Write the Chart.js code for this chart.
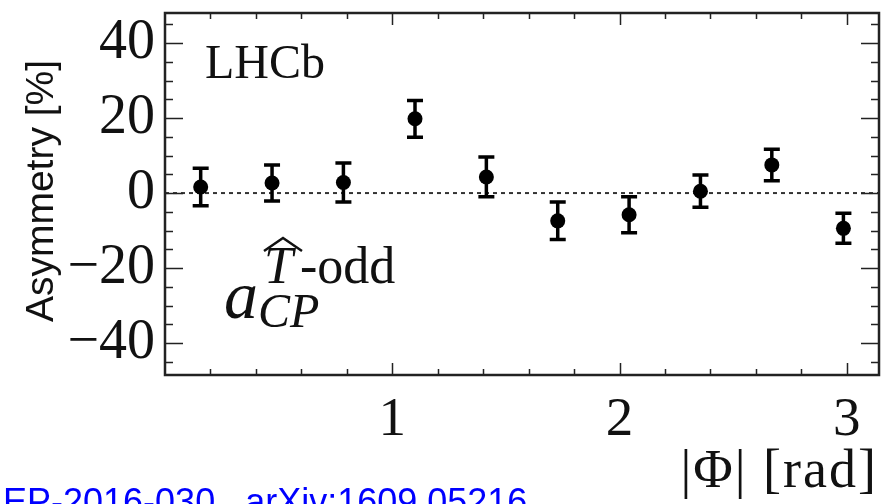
<!DOCTYPE html>
<html lang="en">
<head>
    <meta charset="UTF-8">
    <title>LHCb T-odd asymmetry vs |Phi|</title>
    <script src="https://cdn.jsdelivr.net/npm/chart.js"></script>
    <style>
        body {
            margin: 0;
            padding: 0;
            background: #fff;
        }
        #wrap {
            width: 893px;
            height: 504px;
        }
    </style>
</head>
<body>
    <div id="wrap"><canvas id="asymChart" width="893" height="504"></canvas></div>

    <script>
        // bin centres in |Phi| (rad), 10 bins over [0, pi]
        const phiCenters = [0.157, 0.471, 0.785, 1.100, 1.414, 1.728, 2.042, 2.356, 2.670, 2.985];
        // a_CP (T-odd) asymmetry in %
        const asymmetry = [1.6, 2.7, 2.8, 19.8, 4.3, -7.4, -5.8, 0.5, 7.5, -9.4];
        const asymErr = [5.0, 4.8, 5.2, 4.9, 5.3, 5.0, 4.8, 4.3, 4.2, 4.0];
        const xTickValues = [1, 2, 3];
        const yTickValues = [-40, -20, 0, 20, 40];

        const serif = "'Liberation Serif', 'Times New Roman', serif";
        const sans = "'Liberation Sans', Arial, sans-serif";

        const points = phiCenters.map((x, i) => ({ x: x, y: asymmetry[i], e: asymErr[i] }));

        // frame, inward ticks, zero line, error bars and labels
        const decor = {
            id: 'decor',
            beforeDatasetsDraw(chart) {
                const { ctx, chartArea: a, scales: { x, y } } = chart;
                ctx.save();
                // dotted zero line
                const y0 = y.getPixelForValue(0);
                ctx.strokeStyle = '#333';
                ctx.lineWidth = 2;
                ctx.setLineDash([4, 4]);
                ctx.beginPath();
                ctx.moveTo(a.left, y0);
                ctx.lineTo(a.right, y0);
                ctx.stroke();
                ctx.setLineDash([]);

                // error bars
                ctx.strokeStyle = '#000';
                ctx.lineWidth = 3.5;
                points.forEach(p => {
                    const px = x.getPixelForValue(p.x);
                    const top = y.getPixelForValue(p.y + p.e);
                    const bot = y.getPixelForValue(p.y - p.e);
                    ctx.beginPath();
                    ctx.moveTo(px, top);
                    ctx.lineTo(px, bot);
                    ctx.moveTo(px - 8, top);
                    ctx.lineTo(px + 8, top);
                    ctx.moveTo(px - 8, bot);
                    ctx.lineTo(px + 8, bot);
                    ctx.stroke();
                });
                ctx.restore();
            },
            afterDraw(chart) {
                const { ctx, chartArea: a, scales: { x, y } } = chart;
                ctx.save();
                ctx.strokeStyle = '#222';
                ctx.lineWidth = 1.5;
                // y ticks (left and right), every 5, major every 20
                for (let v = -45; v <= 45; v += 5) {
                    const py = Math.round(y.getPixelForValue(v)) + 0.5;
                    const len = v % 20 === 0 ? 18 : 8;
                    ctx.beginPath();
                    ctx.moveTo(a.left, py); ctx.lineTo(a.left + len, py);
                    ctx.moveTo(a.right, py); ctx.lineTo(a.right - len, py);
                    ctx.stroke();
                }
                // x ticks (bottom and top), every 0.2, major every 1
                for (let k = 1; k <= 15; k++) {
                    const v = k * 0.2;
                    const px = Math.round(x.getPixelForValue(v)) + 0.5;
                    const len = k % 5 === 0 ? 12 : 6;
                    ctx.beginPath();
                    ctx.moveTo(px, a.bottom); ctx.lineTo(px, a.bottom - len);
                    ctx.moveTo(px, a.top); ctx.lineTo(px, a.top + len);
                    ctx.stroke();
                }
                // frame
                ctx.lineWidth = 2.5;
                ctx.strokeRect(a.left, a.top, a.right - a.left, a.bottom - a.top);

                // texts
                ctx.fillStyle = '#111';
                ctx.textBaseline = 'alphabetic';
                ctx.textAlign = 'left';
                ctx.font = '48px ' + serif;
                ctx.fillText('LHCb', 205, 78);

                // a_CP^{T-odd}
                ctx.font = 'italic 68px ' + serif;
                ctx.fillText('a', 224, 318);
                ctx.font = 'italic 48px ' + serif;
                ctx.fillText('CP', 258, 327);
                ctx.font = 'italic 52px ' + serif;
                ctx.fillText('T', 264, 283);
                ctx.font = '52px ' + serif;
                ctx.fillText('-odd', 300, 283);
                ctx.lineWidth = 2.5;
                ctx.strokeStyle = '#111';
                ctx.beginPath();
                ctx.moveTo(264, 251);
                ctx.lineTo(283, 238);
                ctx.lineTo(302, 251);
                ctx.stroke();

                // x title
                ctx.textAlign = 'right';
                ctx.font = '54px ' + serif;
                ctx.letterSpacing = '2px';
                ctx.fillText('|\u03A6| [rad]', 878, 487);
                ctx.letterSpacing = '0px';

                // y title
                ctx.save();
                ctx.translate(53, 191);
                ctx.rotate(-Math.PI / 2);
                ctx.textAlign = 'center';
                ctx.font = '39px ' + sans;
                ctx.fillText('Asymmetry [%]', 0, 0);
                ctx.restore();

                // reference line at the bottom
                ctx.textAlign = 'left';
                ctx.fillStyle = '#0000ff';
                ctx.font = '36px ' + sans;
                ctx.fillText('EP-2016-030 , arXiv:1609.05216', 3, 514);
                ctx.restore();
            }
        };

        new Chart(document.getElementById('asymChart'), {
            type: 'scatter',
            data: {
                datasets: [{
                    label: 'a_CP T-odd',
                    data: points,
                    backgroundColor: '#000',
                    borderColor: '#000',
                    borderWidth: 0,
                    pointRadius: 7.5,
                    pointHoverRadius: 7.5
                }]
            },
            options: {
                responsive: false,
                animation: false,
                devicePixelRatio: 1,
                layout: { padding: { left: 0, top: 13, right: 14, bottom: 0 } },
                plugins: {
                    legend: { display: false },
                    tooltip: { enabled: false }
                },
                scales: {
                    x: {
                        type: 'linear',
                        min: 0,
                        max: Math.PI,
                        afterBuildTicks: s => { s.ticks = xTickValues.map(v => ({ value: v })); },
                        afterFit: s => {
                            s.height = 129;
                            s.paddingLeft = 0;
                            s.paddingRight = 0;
                        },
                        grid: { display: false, drawTicks: false },
                        border: { display: false },
                        ticks: {
                            autoSkip: false,
                            maxRotation: 0,
                            padding: 13,
                            color: '#111',
                            font: { family: serif, size: 55 }
                        }
                    },
                    y: {
                        type: 'linear',
                        min: -48.5,
                        max: 48,
                        afterBuildTicks: s => { s.ticks = yTickValues.map(v => ({ value: v })); },
                        afterFit: s => {
                            s.width = 165;
                            s.paddingTop = 0;
                            s.paddingBottom = 0;
                        },
                        grid: { display: false, drawTicks: false },
                        border: { display: false },
                        ticks: {
                            autoSkip: false,
                            padding: 10,
                            color: '#111',
                            font: { family: serif, size: 56 },
                            callback: v => (v < 0 ? '\u2212' + Math.abs(v) : String(v))
                        }
                    }
                }
            },
            plugins: [decor]
        });
    </script>
</body>
</html>
